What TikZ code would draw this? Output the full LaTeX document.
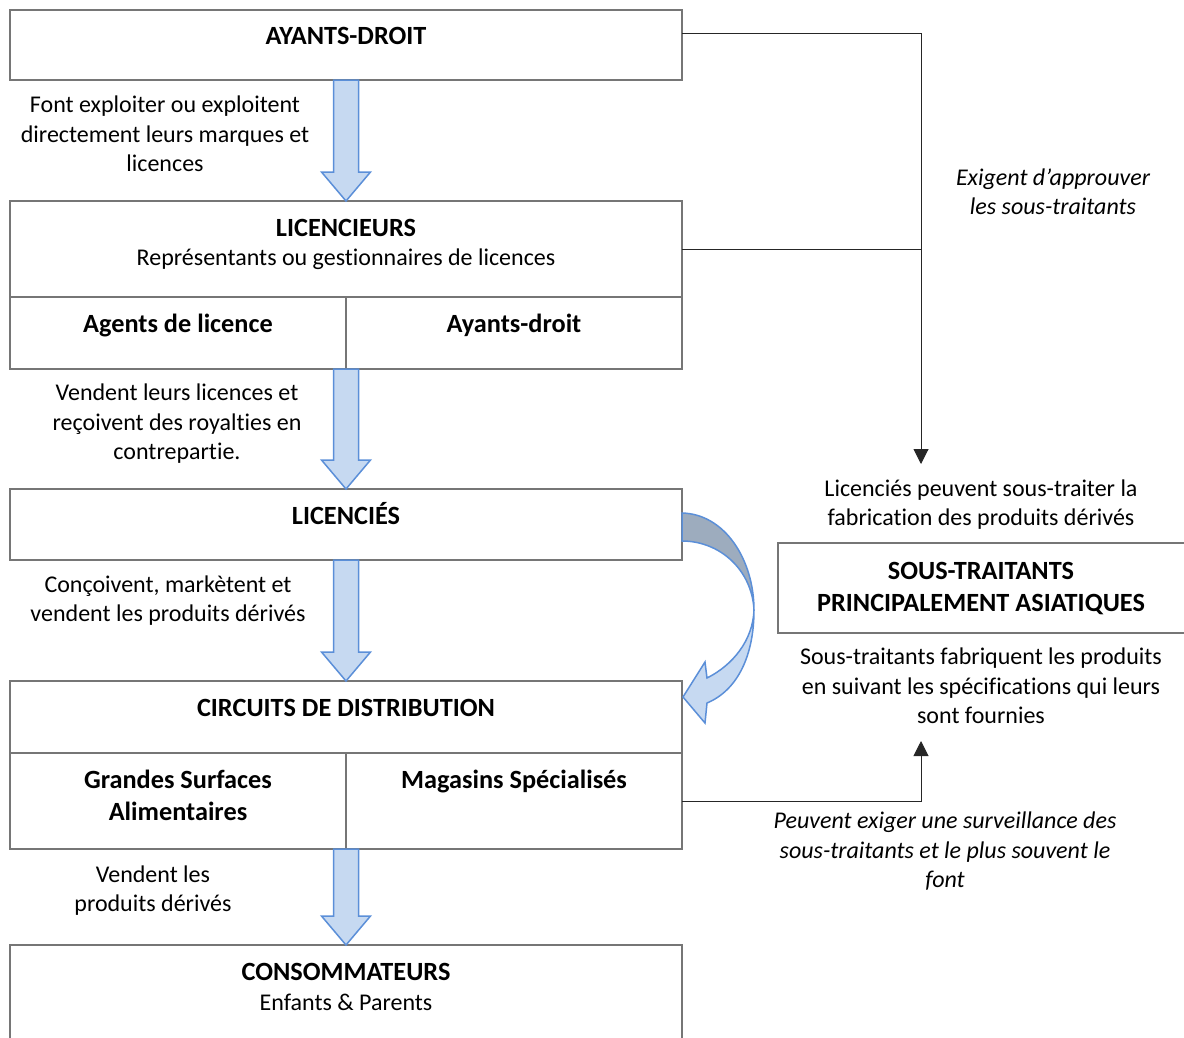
\documentclass[tikz,border=0pt]{standalone}
\usepackage{fontspec}
\setmainfont[Ligatures=NoCommon]{Carlito}
\usetikzlibrary{arrows.meta,calc}
\definecolor{boxline}{HTML}{767676}
\definecolor{flowfill}{HTML}{C6D9F1}
\definecolor{flowline}{HTML}{5B8FD8}
\definecolor{flowshade}{HTML}{9DACBE}
\begin{document}
\begin{tikzpicture}[x=1pt,y=-1pt,
  box/.style={draw=boxline,line width=1.3pt,rectangle,inner sep=0pt,outer sep=0pt},
  txt/.style={font=\fontsize{24}{29.5}\selectfont,align=center,inner sep=0pt,anchor=base},
  itxt/.style={txt,font=\fontsize{24}{29.5}\selectfont\itshape},
  hd/.style={font=\fontsize{26.3}{32}\selectfont\bfseries,align=center,inner sep=0pt,anchor=base},
  conn/.style={draw=black!85,line width=1pt},
  tip/.style={-{Triangle[width=15pt,length=15pt]}},
  blockarrow/.style={fill=flowfill,draw=flowline,line width=1.5pt,line join=miter}]
\useasboundingbox (0,0) rectangle (1184,1037);

% boxes of the chain
\node[box,minimum width=672pt,minimum height=70pt] (ad) at (346,45) {};
\node[box,minimum width=672pt,minimum height=96pt] (lic) at (346,249) {};
\node[box,minimum width=336pt,minimum height=72pt] (agents) at (178,333) {};
\node[box,minimum width=336pt,minimum height=72pt] (aydr) at (514,333) {};
\node[box,minimum width=672pt,minimum height=71pt] (lices) at (346,524.5) {};
\node[box,minimum width=672pt,minimum height=72pt] (circ) at (346,717) {};
\node[box,minimum width=336pt,minimum height=96pt] (gsa) at (178,801) {};
\node[box,minimum width=336pt,minimum height=96pt] (mag) at (514,801) {};
\node[box,minimum width=672pt,minimum height=100pt] (cons) at (346,995) {};
\node[box,minimum width=416pt,minimum height=90pt] (st) at (986,588) {};

% box titles (anchored on the baseline of their last line)
\node[hd] (tad) at (346,44.5) {AYANTS-DROIT};
\node[hd] (tlic) at (346,236.5) {LICENCIEURS};
\node[txt] (slic) at (346,265.5) {Représentants ou gestionnaires de licences};
\node[hd] (tagents) at (178,332.5) {Agents de licence};
\node[hd] (taydr) at (514,332.5) {Ayants-droit};
\node[hd] (tlices) at (346,524.5) {LICENCIÉS};
\node[hd] (tcirc) at (346,716.5) {CIRCUITS DE DISTRIBUTION};
\node[hd] (tgsa) at (178,820.5) {Grandes Surfaces\\Alimentaires};
\node[hd] (tmag) at (514,788.5) {Magasins Spécialisés};
\node[hd] (tcons) at (346,980.5) {CONSOMMATEURS};
\node[txt] (scons) at (346,1010.5) {Enfants \& Parents};
\node[hd] (tst) at (981,611.5) {SOUS-TRAITANTS\\PRINCIPALEMENT ASIATIQUES};

% block arrows down the chain
\newcommand\flowdown[2]{%
  \draw[blockarrow] ($(#1)+(-12.5,0)$) -- ($(#2)+(-12.5,-29)$) -- ($(#2)+(-24.5,-29)$)
    -- (#2) -- ($(#2)+(24.5,-29)$) -- ($(#2)+(12.5,-29)$) -- ($(#1)+(12.5,0)$) -- cycle;}
\flowdown{ad.south}{lic.north}
\flowdown{agents.south east}{lices.north}
\flowdown{lices.south}{circ.north}
\flowdown{gsa.south east}{cons.north}

% curved arrow from the licensees to distribution
\draw[blockarrow] (754,610) .. controls (754,655) and (738,690) .. (707,703)
  -- (705,723) -- (683,697) -- (705,662) -- (707,678)
  .. controls (733,665) and (753,640) .. (754,610) -- cycle;
\draw[blockarrow,fill=flowshade] ($(lices.north east)+(0,24)$) .. controls (725,514) and (754,560) .. (754,610)
  .. controls (752,570) and (720,541) .. ($(lices.north east)+(0,52)$) -- cycle;

% labels along the chain
\node[txt] (l1) at (165,171.5) {Font exploiter ou exploitent\\directement leurs marques et\\licences};
\node[txt] (l2) at (177,459.5) {Vendent leurs licences et\\reçoivent des royalties en\\contrepartie.};
\node[txt] (l3) at (168,621.5) {Conçoivent, markètent et\\vendent les produits dérivés};
\node[txt] (l4) at (153,911.5) {Vendent les\\produits dérivés};

% labels on the subcontracting side
\node[itxt] (r1) at (1053,214.5) {Exigent d’approuver\\les sous-traitants};
\node[txt] (r2) at (981,525.5) {Licenciés peuvent sous-traiter la\\fabrication des produits dérivés};
\node[txt] (r3) at (981,723.5) {Sous-traitants fabriquent les produits\\en suivant les spécifications qui leurs\\sont fournies};
\node[itxt] (r4) at (945,887.5) {Peuvent exiger une surveillance des\\sous-traitants et le plus souvent le\\font};

% connectors to the subcontractors
\coordinate (tipA) at (921,464);
\coordinate (tipB) at (921,741);
\draw[conn,tip] ($(ad.north east)+(0,23)$) -| (tipA);
\draw[conn] (lic.east) -- (lic.east -| tipA);
\draw[conn,tip] (mag.east) -| (tipB);
\end{tikzpicture}
\end{document}
